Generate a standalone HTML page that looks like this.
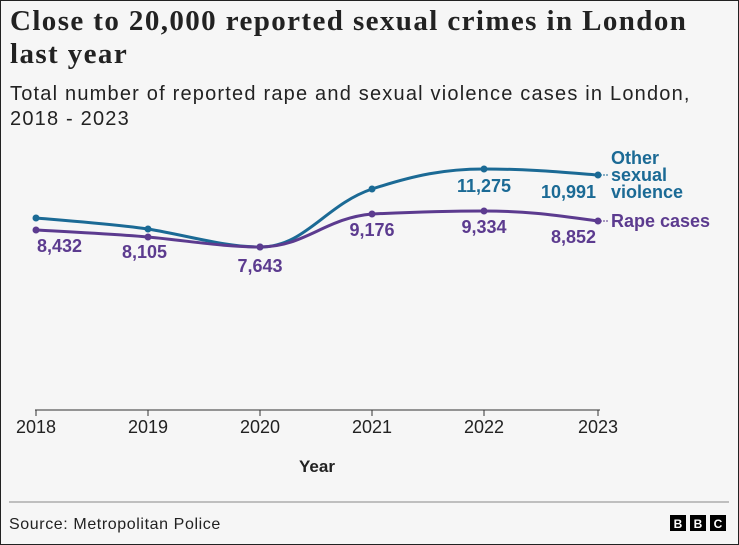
<!DOCTYPE html>
<html><head><style>
body{margin:0;width:739px;height:545px;overflow:hidden;background:#fff}
.w{position:absolute;left:0;top:0;width:737px;height:543px;border:1px solid #222;background:#f6f6f6;font-family:"Liberation Sans",sans-serif}
.t{position:absolute;left:9px;top:4px;font-family:"Liberation Serif",serif;font-weight:bold;font-size:29px;line-height:33px;color:#222;letter-spacing:1.4px;white-space:nowrap}
.s{position:absolute;left:9px;top:81px;font-size:20px;line-height:25px;color:#222;letter-spacing:1.2px;white-space:nowrap}
</style></head><body><div class="w">
<div class="t">Close to 20,000 reported sexual crimes in London<br>last year</div>
<div class="s">Total number of reported rape and sexual violence cases in London,<br>2018 - 2023</div>
<svg width="739" height="545" style="position:absolute;left:-1px;top:-1px" font-family="Liberation Sans, sans-serif">
<path d="M36,218 C72,221 112,224 148,229 C190,236 225,247 260,247 C305,247 325,205 372,189 C415,175 445,169 484,169 C530,169 560,172 598,175" fill="none" stroke="#1b6a95" stroke-width="3"/>
<path d="M36,230 C72,232 112,234 148,237 C190,241 225,247 260,247 C305,247 325,218 372,214 C415,212 445,211 484,211 C530,211 560,216 598,221" fill="none" stroke="#5c3b8f" stroke-width="3"/>
<g fill="#1b6a95"><circle cx="36" cy="218" r="3.5"/><circle cx="148" cy="229" r="3.5"/><circle cx="260" cy="247" r="3.5"/><circle cx="372" cy="189" r="3.5"/><circle cx="484" cy="169" r="3.5"/><circle cx="598" cy="175" r="3.5"/></g>
<g fill="#5c3b8f"><circle cx="36" cy="230" r="3.5"/><circle cx="148" cy="237" r="3.5"/><circle cx="260" cy="247" r="3.5"/><circle cx="372" cy="214" r="3.5"/><circle cx="484" cy="211" r="3.5"/><circle cx="598" cy="221" r="3.5"/></g>
<line x1="600" y1="175" x2="608" y2="175" stroke="#1b6a95" stroke-dasharray="2,1"/>
<line x1="600" y1="221" x2="608" y2="221" stroke="#5c3b8f" stroke-dasharray="2,1"/>
<g font-size="18" font-weight="bold" fill="#1b6a95"><text x="611" y="164">Other</text><text x="611" y="181">sexual</text><text x="611" y="198">violence</text>
<text x="484" y="192" text-anchor="middle">11,275</text><text x="596" y="198" text-anchor="end">10,991</text></g>
<g font-size="18" font-weight="bold" fill="#5c3b8f"><text x="611" y="227">Rape cases</text>
<text x="37" y="252">8,432</text><text x="122" y="258">8,105</text><text x="260" y="272" text-anchor="middle">7,643</text><text x="372" y="236" text-anchor="middle">9,176</text><text x="484" y="233" text-anchor="middle">9,334</text><text x="596" y="243" text-anchor="end">8,852</text></g>
<line x1="35" y1="410" x2="600" y2="410" stroke="#333" stroke-width="1"/>
<g stroke="#333"><line x1="36" y1="410" x2="36" y2="416"/><line x1="148" y1="410" x2="148" y2="416"/><line x1="260" y1="410" x2="260" y2="416"/><line x1="372" y1="410" x2="372" y2="416"/><line x1="484" y1="410" x2="484" y2="416"/><line x1="598" y1="410" x2="598" y2="416"/></g>
<g font-size="18" fill="#222" text-anchor="middle"><text x="36" y="433">2018</text><text x="148" y="433">2019</text><text x="260" y="433">2020</text><text x="372" y="433">2021</text><text x="484" y="433">2022</text><text x="598" y="433">2023</text></g>
<text x="317" y="472" font-size="17" font-weight="bold" fill="#222" text-anchor="middle">Year</text>
<line x1="9" y1="502" x2="729" y2="502" stroke="#888"/>
<text x="9" y="529" font-size="16" fill="#222" letter-spacing="0.6">Source: Metropolitan Police</text>
<g><rect x="670" y="515" width="16" height="16" fill="#000"/><rect x="690" y="515" width="16" height="16" fill="#000"/><rect x="710" y="515" width="16" height="16" fill="#000"/>
<g fill="#fff" font-size="12" font-weight="bold" text-anchor="middle"><text x="678" y="528">B</text><text x="698" y="528">B</text><text x="718" y="528">C</text></g></g>
</svg></div></body></html>
